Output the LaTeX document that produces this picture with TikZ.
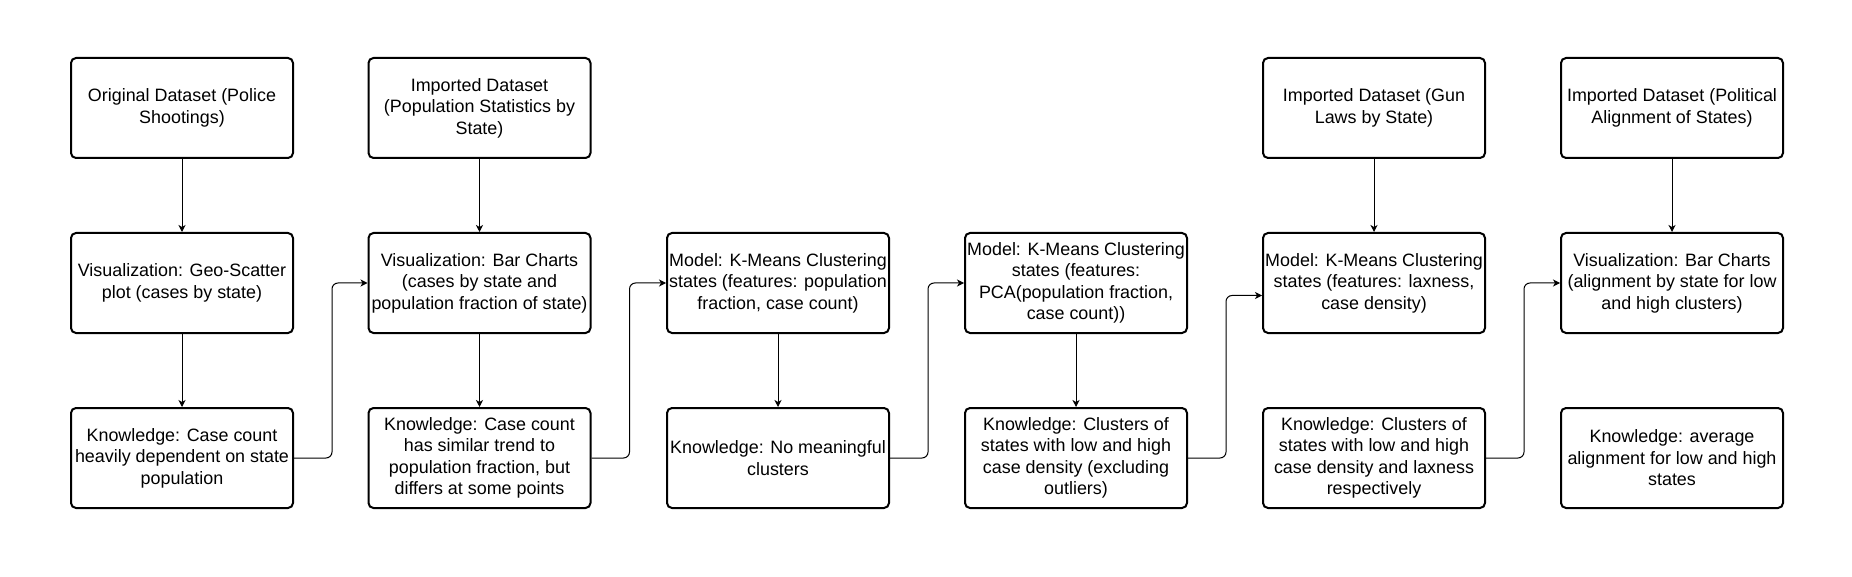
\documentclass[tikz,border=0pt]{standalone}
\usepackage{fontspec}
\setmainfont{Liberation Sans}
\usetikzlibrary{arrows.meta,positioning}

\begin{document}
\begin{tikzpicture}[x=1pt, y=-1pt,
    every node/.style={align=center, font=\fontsize{17.9}{21.5}\selectfont},
    box/.style={draw=black, line width=2pt, rounded corners=5pt, minimum width=222pt, minimum height=100pt, inner sep=1pt},
    link/.style={line width=1pt, rounded corners=6pt, -{Stealth[length=7pt, width=7pt, inset=2pt]}}]
  \useasboundingbox (0,0) rectangle (1852,577);
  % datasets
  \node[box] (d1) at (182,108) {Original Dataset (Police\\Shootings)};
  \node[box] (d2) at (479.5,108) {Imported Dataset\\(Population Statistics by\\State)};
  \node[box] (d5) at (1374,108) {Imported Dataset (Gun\\Laws by State)};
  \node[box] (d6) at (1672,108) {Imported Dataset (Political\\Alignment of States)};
  % visualizations and models
  \node[box] (v1) at (182,283) {Visualization: Geo-Scatter\\plot (cases by state)};
  \node[box] (v2) at (479.5,283) {Visualization: Bar Charts\\(cases by state and\\population fraction of state)};
  \node[box] (m3) at (778,283) {Model: K-Means Clustering\\states (features: population\\fraction, case count)};
  \node[box] (m4) at (1076,283) {Model: K-Means Clustering\\states (features:\\PCA(population fraction,\\case count))};
  \node[box] (m5) at (1374,283) {Model: K-Means Clustering\\states (features: laxness,\\case density)};
  \node[box] (v6) at (1672,283) {Visualization: Bar Charts\\(alignment by state for low\\and high clusters)};
  % knowledge
  \node[box] (k1) at (182,458) {Knowledge: Case count\\heavily dependent on state\\population};
  \node[box] (k2) at (479.5,458) {Knowledge: Case count\\has similar trend to\\population fraction, but\\differs at some points};
  \node[box] (k3) at (778,458) {Knowledge: No meaningful\\clusters};
  \node[box] (k4) at (1076,458) {Knowledge: Clusters of\\states with low and high\\case density (excluding\\outliers)};
  \node[box] (k5) at (1374,458) {Knowledge: Clusters of\\states with low and high\\case density and laxness\\respectively};
  \node[box] (k6) at (1672,458) {Knowledge: average\\alignment for low and high\\states};
  % vertical flow
  \draw[link] (d1) -- (v1);
  \draw[link] (v1) -- (k1);
  \draw[link] (d2) -- (v2);
  \draw[link] (v2) -- (k2);
  \draw[link] (m3) -- (k3);
  \draw[link] (m4) -- (k4);
  \draw[link] (d5) -- (m5);
  \draw[link] (d6) -- (v6);
  % knowledge feeds the next step
  \draw[link] (k1.east) -- ++(38,0) |- (v2.west);
  \draw[link] (k2.east) -- ++(38,0) |- (m3.west);
  \draw[link] (k3.east) -- ++(38,0) |- (m4.west);
  \draw[link] (k4.east) -- ++(38,0) |- ([yshift=-12.5pt]m5.west);
  \draw[link] (k5.east) -- ++(38,0) |- (v6.west);
\end{tikzpicture}
\end{document}
